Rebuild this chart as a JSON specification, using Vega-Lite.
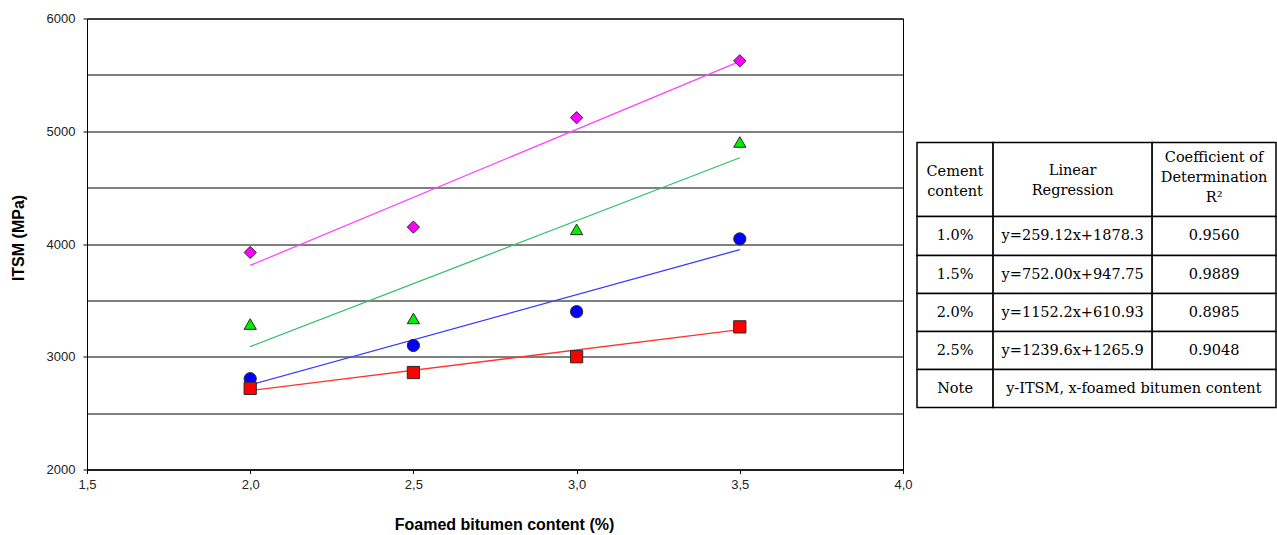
{
  "$schema": "https://vega.github.io/schema/vega-lite/v6.json",
  "padding": {"left": 9, "top": 11.5, "right": 0, "bottom": 0},
  "background": "white",
  "bounds": "flush",
  "spacing": 14,
  "config": {"view": {"stroke": null}, "font": "Liberation Sans", "concat": {"spacing": 14}},
  "datasets": {
    "points": [
      {"series": "2.5%", "x": 2.0, "y": 3925},
      {"series": "2.5%", "x": 2.5, "y": 4150},
      {"series": "2.5%", "x": 3.0, "y": 5120},
      {"series": "2.5%", "x": 3.5, "y": 5625},
      {"series": "2.0%", "x": 2.0, "y": 3290},
      {"series": "2.0%", "x": 2.5, "y": 3340},
      {"series": "2.0%", "x": 3.0, "y": 4130},
      {"series": "2.0%", "x": 3.5, "y": 4905},
      {"series": "1.5%", "x": 2.0, "y": 2805},
      {"series": "1.5%", "x": 2.5, "y": 3100},
      {"series": "1.5%", "x": 3.0, "y": 3400},
      {"series": "1.5%", "x": 3.5, "y": 4045},
      {"series": "1.0%", "x": 2.0, "y": 2720},
      {"series": "1.0%", "x": 2.5, "y": 2860},
      {"series": "1.0%", "x": 3.0, "y": 3000},
      {"series": "1.0%", "x": 3.5, "y": 3265}
    ],
    "fits": [
      {"series": "2.5%", "x": 2.0, "y": 3810},
      {"series": "2.5%", "x": 3.5, "y": 5620},
      {"series": "2.0%", "x": 2.0, "y": 3090},
      {"series": "2.0%", "x": 3.5, "y": 4765},
      {"series": "1.5%", "x": 2.0, "y": 2750},
      {"series": "1.5%", "x": 3.5, "y": 3950},
      {"series": "1.0%", "x": 2.0, "y": 2700},
      {"series": "1.0%", "x": 3.5, "y": 3240}
    ],
    "table": [
      {"c0": 0, "c1": 0.212, "r0": 0, "r1": 1.947, "tx": 0.106, "ty": 0.77, "text": "Cement\ncontent"},
      {"c0": 0.212, "c1": 0.655, "r0": 0, "r1": 1.947, "tx": 0.4335, "ty": 0.74, "text": "Linear\nRegression"},
      {"c0": 0.655, "c1": 1, "r0": 0, "r1": 1.947, "tx": 0.8275, "ty": 0.42, "text": "Coefficient of\nDetermination\nR²"},
      {"c0": 0, "c1": 0.212, "r0": 1.947, "r1": 2.974, "tx": 0.106, "ty": 2.46, "text": "1.0%"},
      {"c0": 0.212, "c1": 0.655, "r0": 1.947, "r1": 2.974, "tx": 0.4335, "ty": 2.46, "text": "y=259.12x+1878.3"},
      {"c0": 0.655, "c1": 1, "r0": 1.947, "r1": 2.974, "tx": 0.8275, "ty": 2.46, "text": "0.9560"},
      {"c0": 0, "c1": 0.212, "r0": 2.974, "r1": 3.974, "tx": 0.106, "ty": 3.474, "text": "1.5%"},
      {"c0": 0.212, "c1": 0.655, "r0": 2.974, "r1": 3.974, "tx": 0.4335, "ty": 3.474, "text": "y=752.00x+947.75"},
      {"c0": 0.655, "c1": 1, "r0": 2.974, "r1": 3.974, "tx": 0.8275, "ty": 3.474, "text": "0.9889"},
      {"c0": 0, "c1": 0.212, "r0": 3.974, "r1": 4.974, "tx": 0.106, "ty": 4.474, "text": "2.0%"},
      {"c0": 0.212, "c1": 0.655, "r0": 3.974, "r1": 4.974, "tx": 0.4335, "ty": 4.474, "text": "y=1152.2x+610.93"},
      {"c0": 0.655, "c1": 1, "r0": 3.974, "r1": 4.974, "tx": 0.8275, "ty": 4.474, "text": "0.8985"},
      {"c0": 0, "c1": 0.212, "r0": 4.974, "r1": 5.974, "tx": 0.106, "ty": 5.474, "text": "2.5%"},
      {"c0": 0.212, "c1": 0.655, "r0": 4.974, "r1": 5.974, "tx": 0.4335, "ty": 5.474, "text": "y=1239.6x+1265.9"},
      {"c0": 0.655, "c1": 1, "r0": 4.974, "r1": 5.974, "tx": 0.8275, "ty": 5.474, "text": "0.9048"},
      {"c0": 0, "c1": 0.212, "r0": 5.974, "r1": 6.974, "tx": 0.106, "ty": 6.474, "text": "Note"},
      {"c0": 0.212, "c1": 1, "r0": 5.974, "r1": 6.974, "tx": 0.604, "ty": 6.474, "text": "y-ITSM, x-foamed bitumen content"}
    ]
  },
  "hconcat": [
    {
      "width": 816,
      "height": 451,
      "view": {"stroke": "#000", "strokeWidth": 1},
      "layer": [
        {
          "data": {"name": "fits"},
          "mark": {"type": "line", "strokeWidth": 1.3},
          "encoding": {
            "x": {
              "field": "x", "type": "quantitative",
              "scale": {"domain": [1.5, 4.0], "nice": false, "zero": false},
              "axis": {
                "values": [1.5, 2.0, 2.5, 3.0, 3.5, 4.0],
                "labelExpr": "replace(format(datum.value, '.1f'), '.', ',')",
                "title": "Foamed bitumen content (%)",
                "grid": false,
                "domainColor": "#000", "tickColor": "#000", "tickSize": 4,
                "labelFont": "Liberation Sans", "labelFontSize": 13, "labelColor": "#222", "labelPadding": 5,
                "labelFlush": false, "labelOverlap": false,
                "titleFont": "Liberation Sans", "titleFontSize": 16, "titleFontWeight": "bold", "titleColor": "#000", "titlePadding": 25,
                "titleX": 417
              }
            },
            "y": {
              "field": "y", "type": "quantitative",
              "scale": {"domain": [2000, 6000], "nice": false, "zero": false},
              "axis": {
                "values": [2000, 2500, 3000, 3500, 4000, 4500, 5000, 5500, 6000],
                "format": "d",
                "labelExpr": "datum.value % 1000 == 0 ? datum.label : ''",
                "title": "ITSM (MPa)",
                "grid": true, "gridColor": "#000", "gridWidth": 1, "gridOpacity": 1,
                "domainColor": "#000", "tickColor": "#000", "tickSize": 4,
                "tickOpacity": {"condition": {"test": "datum.value % 1000 != 0", "value": 0}, "value": 1},
                "labelFont": "Liberation Sans", "labelFontSize": 13, "labelColor": "#222", "labelPadding": 8,
                "labelOverlap": false,
                "titleFont": "Liberation Sans", "titleFontSize": 16, "titleFontWeight": "bold", "titleColor": "#000", "titlePadding": 20,
                "titleY": 219
              }
            },
            "color": {
              "field": "series", "type": "nominal",
              "scale": {"domain": ["2.5%", "2.0%", "1.5%", "1.0%"], "range": ["#ff44ff", "#33c06a", "#3a3aff", "#ff3333"]},
              "legend": null
            }
          }
        },
        {
          "data": {"name": "points"},
          "mark": {"type": "point", "filled": true, "stroke": "#2a2a2a", "strokeWidth": 1, "opacity": 1, "fillOpacity": 1},
          "encoding": {
            "x": {"field": "x", "type": "quantitative"},
            "y": {"field": "y", "type": "quantitative"},
            "fill": {
              "field": "series", "type": "nominal",
              "scale": {"domain": ["2.5%", "2.0%", "1.5%", "1.0%"], "range": ["#ff00ff", "#00ee00", "#0000ff", "#ff0000"]},
              "legend": null
            },
            "shape": {
              "field": "series", "type": "nominal",
              "scale": {"domain": ["2.5%", "2.0%", "1.5%", "1.0%"], "range": ["diamond", "triangle-up", "circle", "square"]},
              "legend": null
            },
            "size": {
              "field": "series", "type": "ordinal",
              "scale": {"domain": ["2.5%", "2.0%", "1.5%", "1.0%"], "range": [150, 150, 125, 110]},
              "legend": null
            }
          }
        }
      ]
    },
    {
      "width": 359,
      "height": 451,
      "view": {"stroke": null},
      "data": {"name": "table"},
      "layer": [
        {
          "mark": {"type": "rect", "fill": "white", "stroke": "#000", "strokeWidth": 1.5},
          "encoding": {
            "x": {"field": "c0", "type": "quantitative", "scale": {"domain": [0, 1], "nice": false, "zero": false}, "axis": null},
            "x2": {"field": "c1"},
            "y": {"field": "r0", "type": "quantitative", "scale": {"domain": [-3.263, 8.605], "reverse": true, "nice": false, "zero": false}, "axis": null},
            "y2": {"field": "r1"}
          }
        },
        {
          "mark": {"type": "text", "font": "DejaVu Serif", "fontSize": 14.5, "lineBreak": "\n", "lineHeight": 20, "align": "center", "baseline": "middle", "color": "#000"},
          "encoding": {
            "x": {"field": "tx", "type": "quantitative"},
            "y": {"field": "ty", "type": "quantitative"},
            "text": {"field": "text"}
          }
        }
      ]
    }
  ]
}
